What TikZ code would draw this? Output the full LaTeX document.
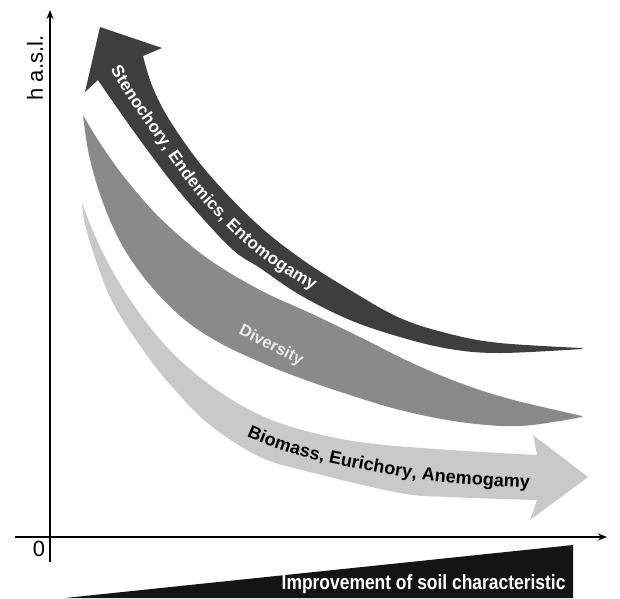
\documentclass[tikz,border=0pt]{standalone}
\usepackage{fontspec}
\setmainfont{Liberation Sans}
\newfontfamily\narrowfont[FakeStretch=0.85]{Liberation Sans}
\usetikzlibrary{decorations.text,arrows.meta}
\definecolor{bandDark}{HTML}{3E3E3E}
\definecolor{bandMid}{HTML}{8A8A8A}
\definecolor{bandLight}{HTML}{C9C9C9}
\definecolor{wedgeCol}{HTML}{141414}
\tikzset{
  axisline/.style={line width=1.5pt,-{Stealth[length=9pt,width=7pt]}},
}
\begin{document}
\begin{tikzpicture}[x=1pt,y=-1pt]
\useasboundingbox[fill=white] (0,0) rectangle (620,598);
% bands
\fill[bandLight] (82,203) -- plot[smooth,tension=0.6] coordinates {(82,203) (100,247) (127,295) (165,345) (210,385) (260,415) (310,432) (367,443) (450,450) (537,455)}
  -- (533,435) -- (588,477) -- (530,520) -- (537,500)
  -- plot[smooth,tension=0.6] coordinates {(537,500) (450,497) (400,493) (310,472) (260,457) (210,425) (175,390) (143,350) (110,297) (87,232) (82,203)} -- cycle;
\fill[bandMid] (83,115) -- plot[smooth,tension=0.6] coordinates {(83,115) (100,143) (125,178) (160,218) (207,258) (260,290) (310,313) (360,337) (410,362) (460,383) (510,399) (582,416)}
  -- plot[smooth,tension=0.6] coordinates {(582,417) (520,426) (460,422) (400,410) (350,395) (300,378) (260,362) (220,343) (185,320) (150,285) (122,245) (102,200) (89,155) (83,115)} -- cycle;
\fill[bandDark] (100,27) -- (162,48) -- (143,56)
  -- plot[smooth,tension=0.6] coordinates {(143,56) (153,88) (172,124) (207,172) (255,222) (300,258) (350,290) (400,318) (450,334) (500,343) (582,348)}
  -- plot[smooth,tension=0.6] coordinates {(582,349) (500,353) (450,349) (400,337) (350,320) (300,295) (260,268) (233,250) (197,212) (170,180) (140,140) (113,102) (98,80)}
  -- (85,92) -- cycle;
% band texts
\path[decorate,decoration={text along path,text align={left indent=5pt},raise=-6pt,text color=white,
  text format delimiters={|}{|},
  text={|\bfseries\fontsize{17}{17}\selectfont|Stenochory, Endemics, Entomogamy}}]
  plot[smooth,tension=0.6] coordinates {(113,62) (135,98) (160,134) (200,189) (250,240) (300,276) (345,299) (380,312)};
\node[font=\bfseries\fontsize{16.5}{16.5}\selectfont,text=white!92!black,rotate=-27] (div) at (271,346) {Diversity};
\path[decorate,decoration={text along path,text align=center,raise=-6.5pt,text color=black,
  text format delimiters={|}{|},
  text={|\bfseries\fontsize{18}{18}\selectfont|Biomass, Eurichory, Anemogamy}}]
  plot[smooth,tension=0.6] coordinates {(238,425) (300,449) (400,470) (470,478) (542,482)};
% axes
\coordinate (o) at (50,537);
\coordinate (ytop) at (50,10);
\coordinate (ybot) at (50,562);
\coordinate (xleft) at (15,537);
\coordinate (xright) at (607,537);
\draw[axisline] (ybot) -- (ytop);
\draw[axisline] (xleft) -- (xright);
\node[font=\fontsize{22}{22}\selectfont,rotate=90] (hasl) at (35,68) {h a.s.l.};
\node[font=\fontsize{22}{22}\selectfont] (zero) at (39,549) {0};
% wedge
\fill[wedgeCol] (65,598) -- (573,545) -- (573,598) -- cycle;
\node[anchor=east,text=white,font=\narrowfont\bfseries\fontsize{20.5}{20.5}\selectfont] (soil) at (569,584) {Improvement of soil characteristic};
\end{tikzpicture}
\end{document}
